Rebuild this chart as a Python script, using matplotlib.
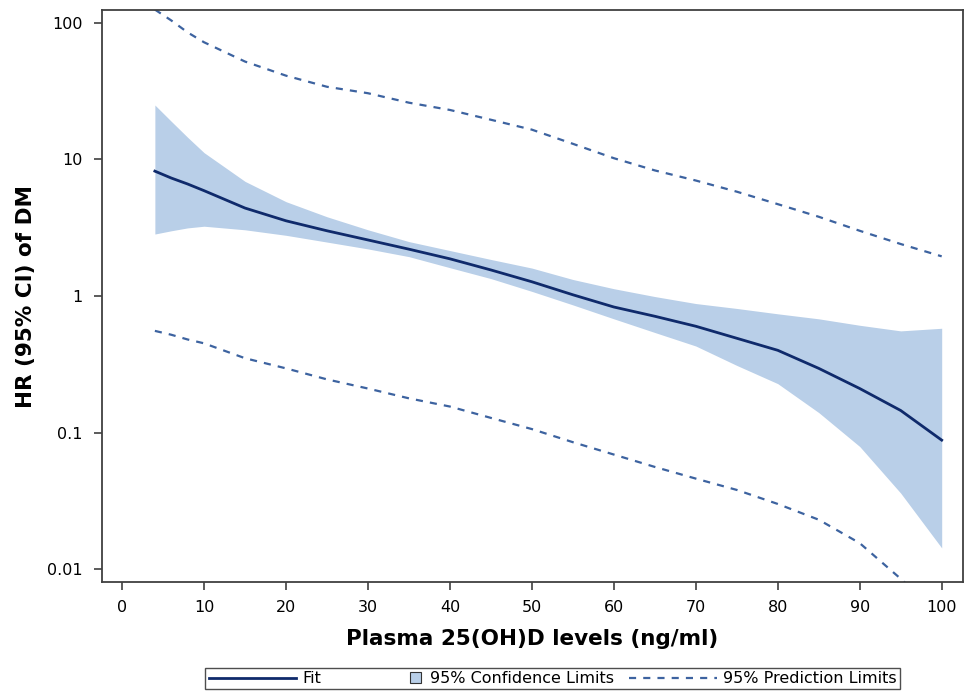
import matplotlib
matplotlib.use("Agg")
import matplotlib.pyplot as plt
from matplotlib.patches import Rectangle
from matplotlib.legend_handler import HandlerPatch

# Datos
vit_d = [4, 6, 8, 10, 15, 20, 25, 30, 35, 40, 45, 50, 55, 60, 65, 70, 75, 80, 85, 90, 95, 100]
hr_fit = [8.2, 7.3, 6.6, 5.9, 4.4, 3.55, 3.0, 2.57, 2.2, 1.87, 1.55, 1.27, 1.02, 0.83, 0.71,
          0.60, 0.49, 0.40, 0.295, 0.21, 0.145, 0.088]
ci_upper = [25, 19, 14.5, 11.2, 6.9, 4.9, 3.8, 3.05, 2.5, 2.15, 1.85, 1.6, 1.32, 1.13, 0.99,
            0.88, 0.81, 0.74, 0.68, 0.61, 0.555, 0.58]
ci_lower = [2.84, 3.0, 3.15, 3.24, 3.05, 2.78, 2.48, 2.21, 1.94, 1.61, 1.34, 1.08, 0.86, 0.68,
            0.54, 0.43, 0.31, 0.228, 0.14, 0.079, 0.036, 0.0143]
pred_upper = [125, 104, 85, 72, 52, 41, 34, 30.5, 26, 23, 19.5, 16.5, 13, 10.2, 8.3, 7.0, 5.8,
              4.7, 3.8, 3.0, 2.4, 1.95]
pred_lower = [0.555, 0.52, 0.48, 0.45, 0.35, 0.295, 0.245, 0.21, 0.178, 0.155, 0.128, 0.106,
              0.085, 0.069, 0.056, 0.046, 0.038, 0.030, 0.023, 0.0155, 0.0085, 0.0045]

y_ticks = [0.01, 0.1, 1, 10, 100]
y_tick_labels = ["0.01", "0.1", "1", "10", "100"]
x_ticks = list(range(0, 101, 10))

fit_color = "#0f2a6b"
band_color = "#b9cfe8"
dash_color = "#3d63a0"
frame_color = "#404040"

plt.rcParams["font.family"] = ["DejaVu Sans"]

fig = plt.figure(figsize=(9.66, 6.96), dpi=100)
ax = fig.add_axes([0.1056, 0.1638, 0.8913, 0.8218])

ax.fill_between(vit_d, ci_lower, ci_upper, color=band_color, linewidth=0)
fit_line, = ax.plot(vit_d, hr_fit, color=fit_color, linewidth=2.0)
pred_line, = ax.plot(vit_d, pred_upper, color=dash_color, linewidth=1.6, dashes=(3.2, 3.2))
ax.plot(vit_d, pred_lower, color=dash_color, linewidth=1.6, dashes=(3.2, 3.2))

ax.set_yscale("log")
ax.set_ylim(0.00805, 124)
ax.set_xlim(-2.45, 102.6)
ax.set_yticks(y_ticks)
ax.set_yticklabels(y_tick_labels)
ax.minorticks_off()
ax.set_xticks(x_ticks)

for side in ["left", "bottom", "top", "right"]:
    ax.spines[side].set_color(frame_color)
    ax.spines[side].set_linewidth(1.3)
ax.tick_params(axis="both", direction="out", length=6, width=1.2, color=frame_color,
               labelsize=11.5, pad=7)
ax.tick_params(axis="y", pad=8)

ax.set_xlabel("Plasma 25(OH)D levels (ng/ml)", fontsize=15.5, fontweight="bold", labelpad=10)
ax.set_ylabel("HR (95% CI) of DM", fontsize=15.5, fontweight="bold", labelpad=8)


def cuadrado(legend, orig_handle, xdescent, ydescent, width, height, fontsize):
    lado = height * 1.0
    return Rectangle((width - lado - 2, -ydescent + (height - lado) / 2), lado, lado)


band_handle = Rectangle((0, 0), 1, 1, facecolor=band_color, edgecolor="#333333",
                        linewidth=0.8)
leg = fig.legend([fit_line, band_handle, pred_line],
                 ["Fit", "95% Confidence Limits", "95% Prediction Limits"],
                 loc="lower center", bbox_to_anchor=(0.572, -0.002), ncol=3,
                 fontsize=11.5, frameon=True, fancybox=False, handlelength=5.5,
                 handletextpad=0.4, columnspacing=0.9, borderpad=0.2,
                 handler_map={Rectangle: HandlerPatch(patch_func=cuadrado)})
leg.get_frame().set_edgecolor("#222222")
leg.get_frame().set_linewidth(1.0)

plt.savefig("out.png", dpi=100)
plt.close()
